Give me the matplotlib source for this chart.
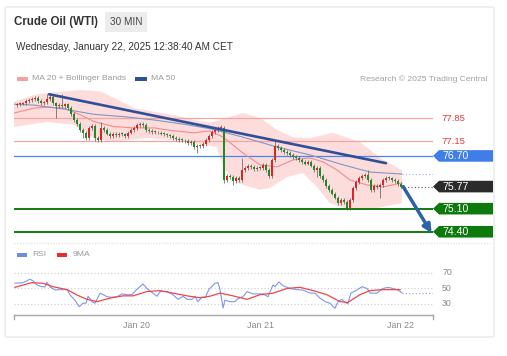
import matplotlib
matplotlib.use("Agg")
import matplotlib.pyplot as plt
import matplotlib.transforms as mtransforms
from matplotlib.patches import Polygon, Rectangle, FancyBboxPatch
import numpy as np

plt.rcParams["font.family"] = ["Liberation Sans", "DejaVu Sans"]

# ── Data ──────────────────────────────────────────────────────────────────────
closes = [
    78.27, 78.28, 78.30, 78.37, 78.40, 78.43, 78.46, 78.37, 78.30, 78.33,
    78.43, 78.49, 78.30, 78.21, 78.24, 78.21, 78.27, 78.15, 77.97, 77.79,
    77.67, 77.49, 77.40, 77.24, 77.55, 77.61, 77.24, 77.18, 77.55, 77.49,
    77.37, 77.30, 77.37, 77.33, 77.37, 77.36, 77.30, 77.40, 77.49, 77.55,
    77.64, 77.67, 77.64, 77.49, 77.46, 77.43, 77.42, 77.40, 77.37, 77.36,
    77.33, 77.30, 77.24, 77.21, 77.18, 77.17, 77.15, 77.09, 77.12, 76.97,
    77.00, 76.99, 77.06, 77.18, 77.30, 77.43, 77.49, 77.55, 77.56, 75.97,
    76.09, 76.06, 75.94, 76.03, 75.97, 76.27, 76.33, 76.40, 76.36, 76.30,
    76.33, 76.32, 76.43, 76.27, 76.09, 76.58, 77.00, 76.94, 76.88, 76.82,
    76.79, 76.73, 76.67, 76.64, 76.58, 76.52, 76.46, 76.52, 76.40, 76.27,
    76.33, 76.09, 75.97, 75.79, 75.67, 75.55, 75.43, 75.27, 75.36, 75.30,
    75.12, 75.36, 75.73, 75.91, 76.03, 76.09, 76.12, 75.97, 75.67, 75.79,
    75.76, 75.82, 75.97, 76.03, 76.02, 75.97, 75.94, 75.85, 75.77,
]
first_open = 78.24
long_highs = {10: 78.58, 15: 78.58, 28: 77.74, 68: 77.64, 75: 76.64, 86: 77.18, 117: 76.27}
long_lows = {13: 77.85, 22: 77.24, 26: 77.15, 60: 76.79, 69: 75.88, 72: 75.82,
             100: 76.06, 110: 75.06, 121: 75.43}

ma50_x = [-1, 5.7, 15.7, 25.7, 35.7, 45.7, 55.7, 64.7, 75.3, 86.7, 97.7, 108.7, 117.7, 128.3]
ma50_y = [78.27, 78.24, 78.12, 77.96, 77.89, 77.79, 77.66, 77.52, 77.27, 76.97, 76.73, 76.43, 76.21, 76.15]

ma20_x = [-1, 5.7, 10, 15.7, 21.3, 25.7, 32.3, 39, 45.7, 52.3, 59, 64.3, 68.7, 75.3,
          81, 86.7, 92, 97.7, 102, 106.7, 111, 116.7, 122, 128.3]
ma20_y = [78.00, 78.15, 78.18, 78.15, 77.94, 77.74, 77.59, 77.55, 77.55, 77.46, 77.40, 77.46,
          77.27, 76.79, 76.43, 76.37, 76.58, 76.64, 76.52, 76.27, 75.97, 75.82, 75.76, 75.88]

bb_up_x = [-1, 5.7, 10, 21.3, 28, 32.3, 39, 45.7, 52.3, 59, 64.3, 71, 75.3, 81, 86.7,
           92, 97.7, 105.3, 114.3, 122, 128.3]
bb_up_y = [78.34, 78.55, 78.61, 78.70, 78.65, 78.46, 78.15, 78.04, 77.94, 77.79, 77.70, 77.88,
           78.00, 77.85, 77.49, 77.27, 77.24, 77.40, 77.12, 76.58, 76.27]
bb_lo_x = [-1, 10, 19, 25.7, 32.3, 36.7, 43.3, 52.3, 59, 64.3, 66.5, 69, 73.3, 81, 84.3,
           90, 95.3, 100, 104.3, 111, 120, 128.3]
bb_lo_y = [77.58, 77.73, 77.64, 77.24, 77.13, 77.18, 77.24, 77.18, 77.09, 77.00, 76.98, 76.30,
           75.88, 75.67, 75.73, 76.06, 76.18, 75.76, 75.27, 75.06, 75.12, 75.27]

trend_x = [10.7, 123]
trend_y = [78.57, 76.48]

last_price = 75.77
target_price = 74.40
ma50_last = 76.15

resistances = [77.85, 77.15]
pivot = 76.70
supports = [75.10, 74.40]

rsi_x = [-0.7, 2, 4.3, 5.3, 6.7, 8.3, 9.3, 10, 11, 12.7, 14.3, 16.7, 17.7, 19.3, 20.7, 22,
         23, 23.7, 25, 26, 27.7, 30, 31.7, 33.3, 35, 36.7, 38.3, 40, 42, 43.3, 45.3, 46.7,
         47.7, 50, 52, 53.7, 55.3, 56.7, 58.3, 59.3, 60.3, 61.7, 62.7, 64, 66, 67, 67.7,
         68.7, 69.3, 71, 72.7, 73.3, 74.3, 75.3, 76.7, 78.7, 82, 83.7, 85.3, 86, 87.3, 88.7,
         91, 93.3, 95.3, 97.7, 99.3, 101, 102.7, 104.3, 106, 107, 108.3, 109.3, 110.3, 111.3,
         113.3, 115, 116.7, 117.7, 120, 122, 123.7, 125.3, 127, 128.3]
rsi_y = [56.7, 57.5, 61.9, 60, 54.5, 52.3, 52, 58, 52, 48, 48.5, 48.5, 41.6, 35, 26.5, 31,
         31, 40, 33, 31, 44, 39.4, 38.6, 39.4, 43, 42, 42, 49, 55.8, 50, 44, 40,
         46, 46, 42, 36, 40, 36, 36, 40, 33, 39, 38, 49, 56.7, 57.5, 48,
         25, 35, 33, 33, 36, 38, 39.4, 46, 43, 43, 39.4, 54.5, 52.3, 58.5, 53.5,
         50, 48.5, 48, 44, 44, 37.6, 33, 31, 24.5, 33, 36, 32, 30.4, 44,
         48, 52.3, 50, 44, 44, 50, 51.5, 50, 48, 44.6]
ma9_x = [-0.7, 2, 5, 8.7, 12, 16.7, 20, 23.3, 26.7, 31, 35.3, 38.7, 43.3, 47.7, 52, 56.7,
         61, 64.3, 67.7, 72, 76.7, 81, 85.3, 90, 94.3, 98.7, 103.3, 107.7, 110.3, 114.3,
         117.7, 122, 127.7]
ma9_y = [51.5, 54.5, 57.5, 56.7, 52.3, 48.5, 41.6, 36, 33, 37.6, 40.5, 40.5, 46, 47.3, 44, 40.5,
         38, 40, 44, 40.5, 36, 42, 44, 50, 51.5, 47.3, 42, 33, 32, 42,
         47.3, 48.5, 48.5]
rsi_levels = [70, 50, 30]

tick_pos = [39.7, 81.3, 128]
tick_labels = ["Jan 20", "Jan 21", "Jan 22"]

# ── Figure ────────────────────────────────────────────────────────────────────
W, H = 507, 356
fig = plt.figure(figsize=(W / 100, H / 100), dpi=100)
fig.patch.set_facecolor("white")


def fx(x):
    return x / W


def fy(y):
    return 1 - y / H


# card (behind everything)
fig.add_artist(FancyBboxPatch((fx(5), fy(337)), fx(489), 330 / H,
                              boxstyle="round,pad=0,rounding_size=0.004",
                              transform=fig.transFigure, facecolor="white",
                              edgecolor="#e4e4e4", lw=0.8, zorder=-10))

# header
fig.text(fx(14), fy(22), "Crude Oil (WTI)", fontsize=8.3, fontweight="bold",
         color="#333333", va="center")
fig.add_artist(Rectangle((fx(105), fy(32)), fx(42), 20 / H, transform=fig.transFigure,
                         facecolor="#ececec", edgecolor="none"))
fig.text(fx(126), fy(22), "30 MIN", fontsize=7.2, color="#444444", va="center", ha="center")
fig.text(fx(16), fy(47), "Wednesday, January 22, 2025 12:38:40 AM CET", fontsize=7.2,
         color="#333333", va="center")

# legend rows
fig.add_artist(Rectangle((fx(17), fy(81)), fx(11), 4 / H, transform=fig.transFigure,
                         facecolor="#f7a0a0", edgecolor="none"))
fig.text(fx(32), fy(79), "MA 20 + Bollinger Bands", fontsize=6.1, color="#9a9a9a", va="center")
fig.add_artist(Rectangle((fx(135), fy(81)), fx(12), 4 / H, transform=fig.transFigure,
                         facecolor="#2f4f9a", edgecolor="none"))
fig.text(fx(151), fy(79), "MA 50", fontsize=6.1, color="#9a9a9a", va="center")
fig.text(fx(487), fy(79), "Research \u00a9 2025 Trading Central", fontsize=6.1,
         color="#a0a0a0", va="center", ha="right")

fig.add_artist(Rectangle((fx(17), fy(257)), fx(10), 4 / H, transform=fig.transFigure,
                         facecolor="#6d8ce8", edgecolor="none"))
fig.text(fx(32), fy(255), "RSI", fontsize=6.1, color="#9a9a9a", va="center")
fig.add_artist(Rectangle((fx(57), fy(257)), fx(10), 4 / H, transform=fig.transFigure,
                         facecolor="#ee2b2b", edgecolor="none"))
fig.text(fx(73), fy(255), "9MA", fontsize=6.1, color="#9a9a9a", va="center")

# separator
fig.add_artist(plt.Line2D([fx(14), fx(490)], [fy(242.5), fy(242.5)], transform=fig.transFigure,
                          color="#dddddd", lw=0.8, ls=(0, (1, 1.5))))

# ── Price panel ──────────────────────────────────────────────────────────────
XMIN, XMAX = -1, 138.67
ax = fig.add_axes([fx(14), fy(240), fx(419), 152 / H])
ax.set_xlim(XMIN, XMAX)
ax.set_ylim(74.15, 78.76)
ax.axis("off")

# bollinger band + MAs
ax.fill(bb_up_x + bb_lo_x[::-1], bb_up_y + bb_lo_y[::-1], color="#fddcdc", lw=0, zorder=1)
ax.plot(ma20_x, ma20_y, color="#f28c8c", lw=0.8, zorder=2)
ax.plot(ma50_x, ma50_y, color="#8097c4", lw=0.8, zorder=2)
ax.plot([ma50_x[-1], XMAX], [ma50_last, ma50_last], color="#9fb4dd", lw=0.8,
        ls=(0, (1, 2)), zorder=2)

# levels
for lvl in resistances:
    ax.axhline(lvl, color="#f6a5a5", lw=0.9, zorder=1.5)
ax.axhline(pivot, color="#4a86e8", lw=0.9, zorder=1.5)
for lvl in supports:
    ax.axhline(lvl, color="#127a12", lw=1.4, zorder=1.5)

# candles
idx = np.arange(len(closes))
c = np.array(closes)
o = np.array([first_open] + closes[:-1])
hi = np.maximum(o, c) + 0.05
lo = np.minimum(o, c) - 0.05
for k, v in long_highs.items():
    hi[k] = max(hi[k], v)
for k, v in long_lows.items():
    lo[k] = min(lo[k], v)
up = c >= o
ax.vlines(idx, lo, hi, color="#555555", lw=0.5, zorder=3)
body = np.where(np.abs(c - o) < 0.02, 0.02, c - o)
ax.bar(idx, body, bottom=o, width=0.8, color=np.where(up, "#dc2626", "#1f8a26"),
       edgecolor="none", zorder=4)

# last price dotted
ax.plot([idx[-1], XMAX], [last_price, last_price], color="#555555", lw=0.8,
        ls=(0, (1, 2)), zorder=2)

# trendline + projection arrow
ax.plot(trend_x, trend_y, color="#2f4f9a", lw=1.9, solid_capstyle="round", zorder=5)
ax.annotate("", xy=(138.2, 74.36), xytext=(idx[-1] + 0.7, last_price),
            arrowprops=dict(arrowstyle="-|>", color="#2d61aa", lw=2.5, mutation_scale=12,
                            shrinkA=0, shrinkB=0),
            annotation_clip=False, zorder=6)

# right-side price tags
trans = mtransforms.blended_transform_factory(fig.transFigure, ax.transData)
half = 5.8 / 33


def price_tag(price, face):
    pts = [(fx(433), price), (fx(439), price + half), (fx(493), price + half),
           (fx(493), price - half), (fx(439), price - half)]
    ax.add_patch(Polygon(pts, closed=True, transform=trans, facecolor=face,
                         edgecolor="none", clip_on=False, zorder=6))
    ax.text(fx(442), price, f"{price:.2f}", transform=trans, color="white", fontsize=7.6,
            va="center", ha="left", clip_on=False, zorder=7)


for lvl in resistances:
    ax.text(fx(441), lvl, f"{lvl:.2f}", transform=trans, color="#e8383d", fontsize=6.8,
            va="center", ha="left", clip_on=False)
price_tag(pivot, "#3f7ee8")
price_tag(last_price, "#2b2b2b")
for lvl in supports:
    price_tag(lvl, "#0e7a0e")

# ── RSI panel ────────────────────────────────────────────────────────────────
ax2 = fig.add_axes([fx(14), fy(315), fx(419), 50 / H])
ax2.set_xlim(XMIN, XMAX)
ax2.set_ylim(15.8, 80.3)
ax2.patch.set_alpha(0)
for lvl in rsi_levels:
    ax2.axhline(lvl, color="#cccccc", lw=0.8, ls=(0, (1, 2)), zorder=1)
    ax2.text(fx(447), lvl, str(lvl), transform=mtransforms.blended_transform_factory(
        fig.transFigure, ax2.transData), fontsize=6.3, color="#888888", va="center",
        ha="center", clip_on=False)
ax2.plot(rsi_x, rsi_y, color="#7d97ee", lw=0.8, zorder=3)
ax2.plot([rsi_x[-1], XMAX], [rsi_y[-1], rsi_y[-1]], color="#8aa2ee", lw=0.8,
         ls=(0, (1, 2)), zorder=2)
ax2.plot(ma9_x, ma9_y, color="#ef4646", lw=0.9, zorder=4)

for side in ("top", "left", "right"):
    ax2.spines[side].set_visible(False)
ax2.spines["bottom"].set_color("#a8a8a8")
ax2.spines["bottom"].set_linewidth(1.0)
ax2.set_yticks([])
ax2.set_xticks(tick_pos)
ax2.set_xticklabels(tick_labels)
ax2.tick_params(axis="x", length=0, pad=4.5, labelsize=6.4, labelcolor="#888888")
for xe in (0, 1):
    ax2.plot([xe, xe], [0, -0.07], transform=ax2.transAxes, color="#a8a8a8", lw=1.0,
             clip_on=False)

fig.savefig("out.png", dpi=100, facecolor=fig.get_facecolor())
